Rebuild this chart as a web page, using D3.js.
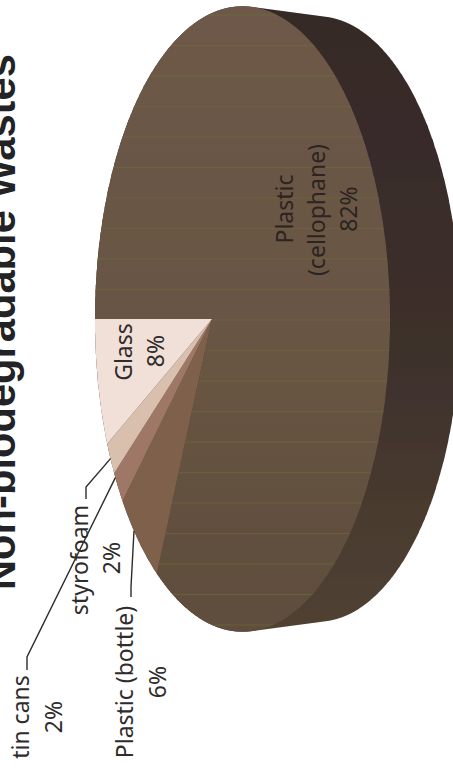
<!DOCTYPE html>
<html>
<head>
<meta charset="utf-8">
<script src="https://cdn.jsdelivr.net/npm/d3@7"></script>
<style>
  html, body { margin: 0; padding: 0; background: #fff; overflow: hidden; }
  text { font-family: "Noto Sans", sans-serif; }
</style>
</head>
<body>
<div id="chart"></div>
<script>
const categories = ["Plastic (cellophane)", "Plastic (bottle)", "tin cans", "styrofoam", "Glass"];
const values = [82, 6, 2, 2, 8];
const colors = ["url(#faceGrad)", "#7f604c", "#9f7766", "#d8bfae", "#f1e0d8"];

// label lines sit in the rotated frame: [line, centre along, baseline across]
const labelText = [
  ["Plastic", 561, 293], ["(cellophane)", 560, 325], ["82%", 561, 357],
  ["Plastic (bottle)", 88, 133], ["6%", 88, 166],
  ["tin cans", 53, 29], ["2%", 53, 62],
  ["styrofoam", 210, 88], ["2%", 212, 120],
  ["Glass", 418, 132], ["8%", 419, 164]
];
// leader elbows for slices 1, 2, 3: [elbow, end]
const leaderBends = [
  [[183, 131], [173, 131]],
  [[113, 27], [100, 27]],
  [[283, 86], [271, 86]]
];

const width = 453, height = 770;
const tilt = 0.2067;

// the chart was photographed on its side, so everything is drawn in a frame turned 90 degrees
const svg = d3.select("#chart").append("svg")
  .attr("width", width)
  .attr("height", height);

const defs = svg.append("defs");

const faceGrad = defs.append("linearGradient")
  .attr("id", "faceGrad")
  .attr("gradientUnits", "userSpaceOnUse")
  .attr("x1", height).attr("x2", 138).attr("y1", 0).attr("y2", 0);
faceGrad.append("stop").attr("offset", "0%").attr("stop-color", "#6e5948");
faceGrad.append("stop").attr("offset", "60%").attr("stop-color", "#675443");
faceGrad.append("stop").attr("offset", "100%").attr("stop-color", "#5e4d3c");

const wallGrad = defs.append("linearGradient")
  .attr("id", "wallGrad")
  .attr("gradientUnits", "userSpaceOnUse")
  .attr("x1", height).attr("x2", 138).attr("y1", 0).attr("y2", 0);
wallGrad.append("stop").attr("offset", "0%").attr("stop-color", "#352927");
wallGrad.append("stop").attr("offset", "55%").attr("stop-color", "#3d302c");
wallGrad.append("stop").attr("offset", "80%").attr("stop-color", "#483a2f");
wallGrad.append("stop").attr("offset", "100%").attr("stop-color", "#504231");

defs.append("filter").attr("id", "soft")
  .append("feGaussianBlur").attr("stdDeviation", 0.6);

const g = svg.append("g")
  .attr("transform", "translate(0," + height + ") rotate(-90)");

// flat circle to picture, with the near side bigger than the far side
const uScale = d3.scaleLinear().domain([-1, 1]).range([138, 764]);
const vScale = d3.scaleLinear().domain([-1, 1]).range([70.8, 353.2]);

function project(angle, shift, size) {
  const px = Math.sin(angle);
  const py = -Math.cos(angle);
  const w = 1 - tilt * py;
  const cu = uScale(0), cv = vScale(0);
  return [cu + (uScale(px * 0.9776) - cu) * size / w, cv + shift + (vScale(py) - cv) * size / w];
}

const line = d3.line();
const ring = (shift, size) => d3.range(0, 2 * Math.PI, 0.01).map((a) => project(a, shift, size));

const top_ = ring(0, 1);
const bottom = ring(76, 0.968);

const pie = d3.pie().sort(null).value((d) => d);
const slices = pie(values);

const body = g.append("g").attr("filter", "url(#soft)");

// side wall is the outline around both rims
body.append("path")
  .attr("d", line(d3.polygonHull(top_.concat(bottom))) + "Z")
  .attr("fill", "url(#wallGrad)");

function slicePath(d) {
  const pts = d3.range(d.startAngle, d.endAngle, 0.01).map((a) => project(a, 0, 1));
  pts.push(project(d.endAngle, 0, 1));
  return line([[uScale(0), vScale(0)]].concat(pts)) + "Z";
}

body.selectAll(".slice")
  .data(slices)
  .enter()
  .append("path")
  .attr("class", "slice")
  .attr("d", slicePath)
  .attr("fill", (d, i) => colors[i]);

// faint green scan lines on the face
defs.append("clipPath").attr("id", "faceClip")
  .append("path").attr("d", slicePath(slices[0]));

body.append("g")
  .attr("clip-path", "url(#faceClip)")
  .selectAll("line")
  .data(d3.range(15, 640, 30.5))
  .enter()
  .append("line")
  .attr("x1", (d) => height - d).attr("x2", (d) => height - d)
  .attr("y1", 0).attr("y2", width)
  .attr("stroke", "#6f6c3c")
  .attr("stroke-width", 1.2)
  .attr("opacity", 0.55);

// leader lines from the rim of the three small slices
[1, 2, 3].forEach((s, i) => {
  const d = slices[s];
  const rim = s === 1 ? project(d.startAngle + (d.endAngle - d.startAngle) * 0.62, 0, 1)
    : s === 2 ? project(d.endAngle - 0.02, 0, 1)
    : project((d.startAngle + d.endAngle) / 2, 0, 1);
  g.append("path")
    .attr("d", line([rim].concat(leaderBends[i])))
    .attr("fill", "none")
    .attr("stroke", "#2f2c2b")
    .attr("stroke-width", 1.4);
});

g.selectAll(".label")
  .data(labelText)
  .enter()
  .append("text")
  .attr("class", "label")
  .attr("x", (d) => d[1])
  .attr("y", (d) => d[2])
  .attr("text-anchor", "middle")
  .attr("font-size", 23)
  .attr("fill", (d, i) => i < 3 ? "#2b2420" : "#2f2c2b")
  .text((d) => d[0]);

g.append("text")
  .attr("x", 180)
  .attr("y", 15)
  .attr("font-weight", "bold")
  .attr("font-size", 41.7)
  .attr("fill", "#232325")
  .style("font-family", "'Liberation Sans'")
  .text("Non-biodegradable Wastes");
</script>
</body>
</html>
